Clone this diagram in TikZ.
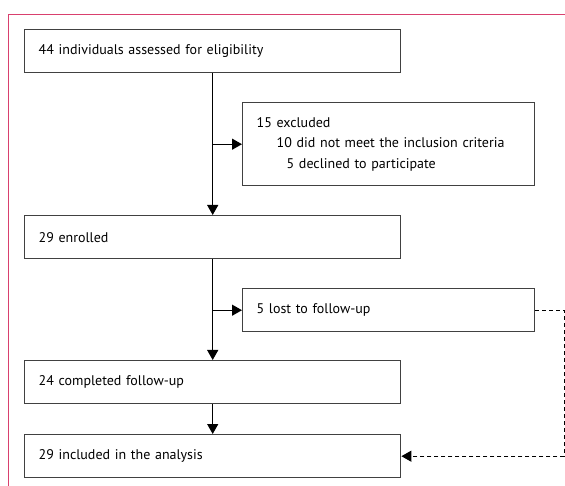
\documentclass[tikz,border=0pt]{standalone}
\usepackage{fontspec}
\setmainfont{PT Sans}
\usetikzlibrary{arrows.meta}
\definecolor{framepink}{RGB}{217,64,110}
\definecolor{boxgrey}{RGB}{65,65,65}

\begin{document}
\begin{tikzpicture}[x=1pt, y=-1pt,
    wide/.style={draw=boxgrey, line width=1.4pt, anchor=north west, inner xsep=14pt,
        text width=348pt, minimum height=43pt, align=left, font=\fontsize{14}{20.5}\selectfont},
    side/.style={wide, text width=264pt},
    flow/.style={-{Triangle[length=10pt, width=11pt]}, line width=1.2pt},
    loss/.style={flow, dash pattern=on 4pt off 3pt}]
\useasboundingbox (0,0) rectangle (565,486);
\draw[framepink, line width=1pt] (565,14.5) -- (8.5,14.5) -- (8.5,486);

\node[wide] (assessed) at (24,29) {44 individuals assessed for eligibility};
\node[side, minimum height=83pt] (excluded) at (242,102) {15 excluded\\
    \hspace*{20pt}10 did not meet the inclusion criteria\\
    \hspace*{30pt}5 declined to participate};
\node[wide] (enrolled) at (24,215) {29 enrolled};
\node[side] (lost) at (242,288) {5 lost to follow-up};
\node[wide] (completed) at (24,360) {24 completed follow-up};
\node[wide] (included) at (24,434) {29 included in the analysis};

\draw[flow] (assessed.south) -- (enrolled.north);
\draw[flow] (excluded.west -| assessed.south) -- (excluded.west);
\draw[flow] (enrolled.south) -- (completed.north);
\draw[flow] (lost.west -| enrolled.south) -- (lost.west);
\draw[flow] (completed.south) -- (included.north);
\draw[loss] (lost.east) -- ++(29,0) |- (included.east);
\end{tikzpicture}
\end{document}
